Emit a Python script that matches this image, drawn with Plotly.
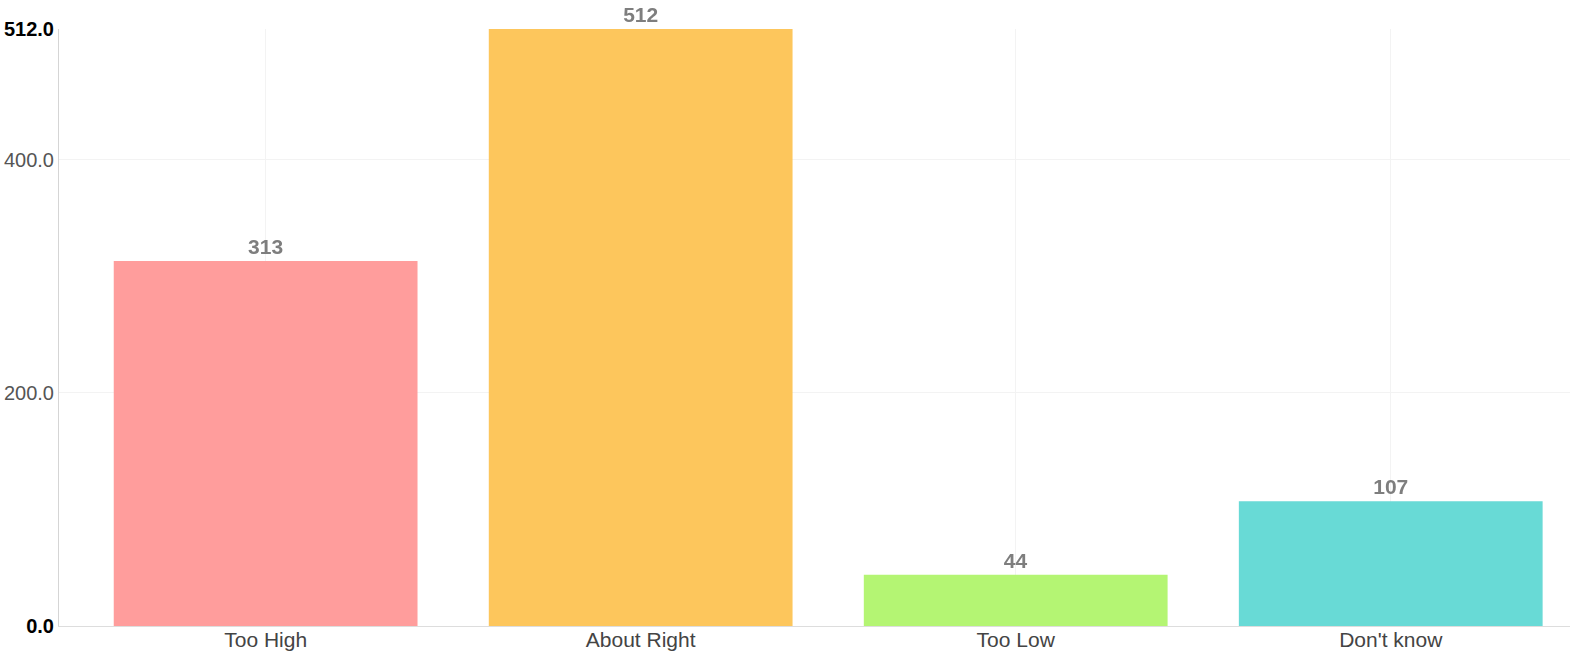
import plotly.graph_objects as go

# Survey responses
categories = ["Too High", "About Right", "Too Low", "Don't know"]
counts = [313, 512, 44, 107]
bar_colors = ["#FF9A99", "#FDC557", "#B2F56F", "#64D9D5"]

# Y axis ticks: the extremes are emphasised
tick_values = [0, 200, 400, 512]
tick_labels = [
    "<b><span style='color:#000000'>0.0</span></b>",
    "200.0",
    "400.0",
    "<b><span style='color:#000000'>512.0</span></b>",
]

FONT = "Liberation Sans, Arial, sans-serif"

fig = go.Figure(
    go.Bar(
        x=categories,
        y=counts,
        marker=dict(color=bar_colors, line=dict(width=0)),
        opacity=0.97,
        width=0.81,
        text=[f"<b>{v}</b>" for v in counts],
        textposition="outside",
        textfont=dict(family=FONT, size=21, color="#7a7a7a"),
        cliponaxis=False,
        hoverinfo="x+y",
    )
)

fig.update_layout(
    width=1576,
    height=656,
    margin=dict(l=59, r=6, t=29, b=30, autoexpand=False),
    paper_bgcolor="white",
    plot_bgcolor="white",
    showlegend=False,
    font=dict(family=FONT, size=21, color="#555555"),
    xaxis=dict(
        range=[-0.551, 3.478],
        automargin=False,
        showgrid=True,
        gridcolor="#f3f3f3",
        gridwidth=1,
        showline=True,
        linecolor="#dddddd",
        linewidth=1,
        ticks="",
        ticklabelstandoff=-5,
        tickfont=dict(size=21, color="#444444"),
        zeroline=False,
    ),
    yaxis=dict(
        range=[0, 512],
        automargin=False,
        tickvals=tick_values,
        ticktext=tick_labels,
        showgrid=True,
        gridcolor="#f3f3f3",
        gridwidth=1,
        showline=True,
        linecolor="#d5d5d5",
        linewidth=1,
        ticks="",
        ticklabelstandoff=0,
        tickfont=dict(size=20, color="#555555"),
        zeroline=False,
    ),
)

fig.write_html("out.html")
